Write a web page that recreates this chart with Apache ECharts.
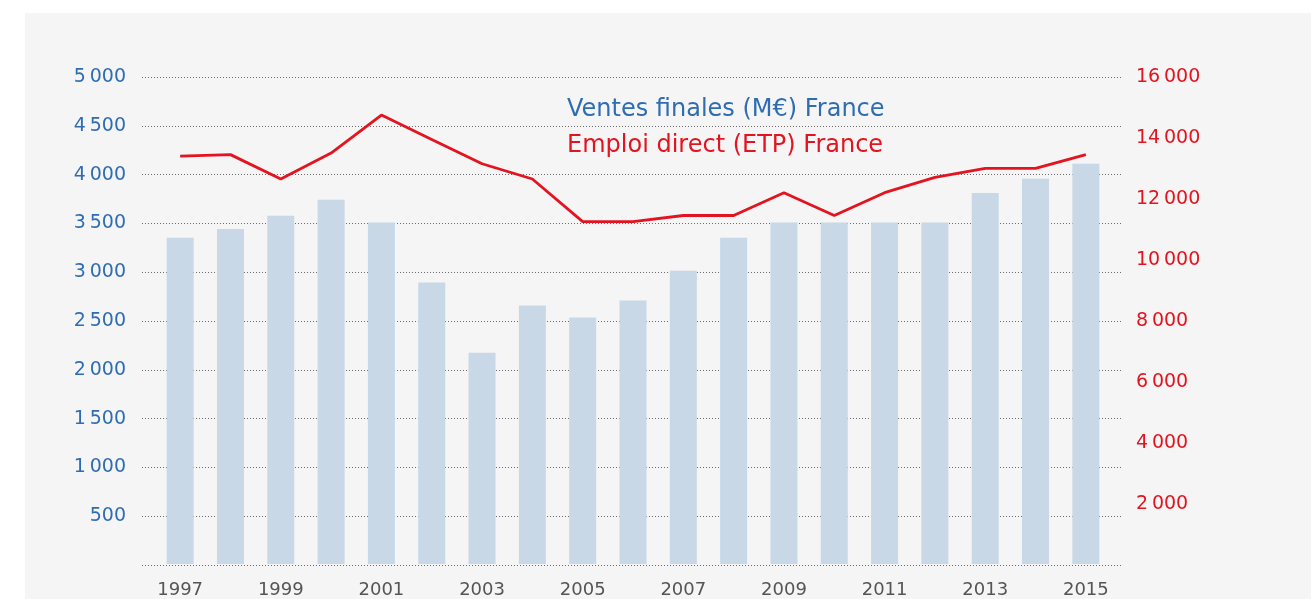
<!DOCTYPE html>
<html>
<head>
<meta charset="utf-8">
<script src="https://cdn.jsdelivr.net/npm/echarts@6/dist/echarts.min.js"></script>
<style>
  html, body { margin: 0; padding: 0; background: #ffffff; }
  #chart { width: 1316px; height: 599px; }
</style>
</head>
<body>
<div id="chart"></div>
<script>
// ---- data ----
const years = ['1997','1998','1999','2000','2001','2002','2003','2004','2005','2006',
               '2007','2008','2009','2010','2011','2012','2013','2014','2015'];
const salesName = 'Ventes finales (M€) France';
const jobsName = 'Emploi direct (ETP) France';
const sales = [3350, 3440, 3575, 3740, 3505, 2890, 2170, 2655, 2530, 2705,
               3010, 3350, 3505, 3505, 3505, 3505, 3810, 3955, 4110];
const jobs = [13400, 13450, 12650, 13500, 14750, 13950, 13150, 12650, 11250, 11250,
              11450, 11450, 12200, 11450, 12200, 12700, 13000, 13000, 13450];
const leftAxis = { min: 0, max: 5000, interval: 500 };
const rightAxis = { min: 0, max: 16000, interval: 2000 };

// ---- style ----
const BLUE = '#2f6db3';
const RED = '#e3141f';
const BAR = '#c8d8e7';
const FONT = 'DejaVu Sans';

function fmt(v) {
  if (v === 0) return '';
  const s = String(v);
  if (s.length <= 3) return s;
  return s.slice(0, s.length - 3) + '\u2009' + s.slice(s.length - 3);
}

const chart = echarts.init(document.getElementById('chart'), null, { renderer: 'canvas' });

const gridTop = 77, gridBottom = 599 - 565;

chart.setOption({
  animation: false,
  backgroundColor: '#ffffff',
  graphic: [{
    type: 'rect', z: -10, silent: true,
    shape: { x: 25, y: 13, width: 1286, height: 600 },
    style: { fill: '#f5f5f5' }
  }],
  legend: {
    orient: 'vertical', left: 557, top: 93, icon: 'none', itemWidth: 0, itemHeight: 14,
    itemGap: 12, selectedMode: false,
    textStyle: { fontFamily: FONT, fontSize: 24, fontWeight: 'normal' },
    data: [
      { name: salesName, textStyle: { color: BLUE } },
      { name: jobsName, textStyle: { color: RED } }
    ]
  },
  grid: [
    { left: 142, right: 1316 - 1122, top: gridTop, bottom: gridBottom, containLabel: false },
    { left: 155, right: 1316 - 1111, top: gridTop, bottom: gridBottom, containLabel: false }
  ],
  xAxis: [
    { gridIndex: 0, type: 'category', data: years, show: false },
    {
      gridIndex: 1, type: 'category', data: years,
      axisLine: { show: false }, axisTick: { show: false },
      axisLabel: { interval: 1, color: '#555555', fontFamily: FONT, fontSize: 18, margin: 17 }
    }
  ],
  yAxis: [
    {
      gridIndex: 0, type: 'value', position: 'left',
      min: leftAxis.min, max: leftAxis.max, interval: leftAxis.interval,
      axisLine: { show: false }, axisTick: { show: false },
      axisLabel: { color: BLUE, fontFamily: FONT, fontSize: 19, margin: 16, formatter: fmt },
      splitLine: { show: true, lineStyle: { color: '#6c6c6c', type: [1, 2], width: 1 } }
    },
    {
      gridIndex: 0, type: 'value', position: 'right',
      min: rightAxis.min, max: rightAxis.max, interval: rightAxis.interval,
      axisLine: { show: false }, axisTick: { show: false },
      axisLabel: { color: RED, fontFamily: FONT, fontSize: 19, margin: 14, formatter: fmt },
      splitLine: { show: false }
    },
    {
      gridIndex: 1, type: 'value', position: 'left', show: false,
      min: leftAxis.min, max: leftAxis.max, interval: leftAxis.interval, splitLine: { show: false }
    },
    {
      gridIndex: 1, type: 'value', position: 'right', show: false,
      min: rightAxis.min, max: rightAxis.max, interval: rightAxis.interval, splitLine: { show: false }
    }
  ],
  series: [
    {
      name: salesName, type: 'bar', xAxisIndex: 1, yAxisIndex: 2,
      data: sales, barWidth: 27, itemStyle: { color: BAR }, z: 2
    },
    {
      name: jobsName, type: 'line', xAxisIndex: 1, yAxisIndex: 3,
      data: jobs, symbol: 'none', lineStyle: { color: RED, width: 2.8 },
      itemStyle: { color: RED }, z: 3
    }
  ]
});
</script>
</body>
</html>
